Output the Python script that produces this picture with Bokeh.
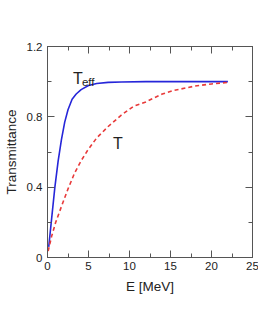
from bokeh.plotting import figure
from bokeh.models import FixedTicker, LinearAxis, Range1d
from bokeh.core.properties import value
from bokeh.embed import file_html
from bokeh.resources import INLINE

# Data
teff_x = [0.15, 0.5, 0.9, 1.3, 1.7, 2.1, 2.5, 3.0, 3.5, 4.1, 5.0, 6.0, 7.4, 9.0, 12.0, 16.0, 22.0]
teff_y = [0.06, 0.22, 0.40, 0.55, 0.67, 0.77, 0.84, 0.90, 0.93, 0.955, 0.978, 0.99, 0.996, 0.998, 1.0, 1.0, 1.0]
t_x = [0.08, 0.5, 1.0, 1.7, 2.5, 3.3, 4.1, 4.9, 6.0, 7.4, 9.0, 10.5, 12.0, 14.0, 15.4, 18.0, 20.0, 22.0]
t_y = [0.036, 0.12, 0.20, 0.29, 0.39, 0.48, 0.55, 0.61, 0.68, 0.745, 0.81, 0.86, 0.885, 0.93, 0.95, 0.975, 0.987, 0.996]

x_ticks = [0, 5, 10, 15, 20, 25]
x_minor = [2.5, 7.5, 12.5, 17.5, 22.5]
y_ticks = [0, 0.4, 0.8, 1.2]
y_minor = [0.2, 0.6, 1.0]
y_labels = {0: "0", 0.4: "0.4", 0.8: "0.8", 1.2: "1.2"}

FONT = "Liberation Sans"

p = figure(frame_width=205, frame_height=211, output_backend="svg", toolbar_location=None,
           x_range=Range1d(0, 25), y_range=Range1d(0, 1.2),
           min_border_left=46, min_border_top=46, min_border_right=7, min_border_bottom=50)
p.grid.visible = False
p.outline_line_color = "#555555"
p.outline_line_width = 1
p.background_fill_color = "white"
p.border_fill_color = "white"

def style_axis(ax):
    ax.axis_line_color = "#555555"
    ax.major_tick_line_color = "#555555"
    ax.minor_tick_line_color = "#555555"
    ax.major_tick_in = 7
    ax.major_tick_out = 0
    ax.minor_tick_in = 4
    ax.minor_tick_out = 0
    ax.major_label_text_font = FONT
    ax.major_label_text_font_size = "11.5px"
    ax.major_label_text_color = "#222222"
    ax.axis_label_text_font = FONT
    ax.axis_label_text_font_size = "13.5px"
    ax.axis_label_text_font_style = "normal"
    ax.axis_label_text_color = "#222222"

p.xaxis.ticker = FixedTicker(ticks=x_ticks, minor_ticks=x_minor)
p.yaxis.ticker = FixedTicker(ticks=y_ticks, minor_ticks=y_minor)
p.yaxis.major_label_overrides = y_labels
p.xaxis.axis_label = "E [MeV]"
p.yaxis.axis_label = "Transmittance"
style_axis(p.xaxis[0])
style_axis(p.yaxis[0])
p.xaxis.major_label_standoff = 4
p.xaxis.axis_label_standoff = 6
p.yaxis.major_label_standoff = 5
p.yaxis.axis_label_standoff = 5

top = LinearAxis(ticker=FixedTicker(ticks=x_ticks, minor_ticks=x_minor),
                 major_label_overrides={t: "" for t in x_ticks})
style_axis(top)
top.major_label_standoff = 0
p.add_layout(top, "above")
right = LinearAxis(ticker=FixedTicker(ticks=y_ticks, minor_ticks=y_minor),
                   major_label_overrides={t: "" for t in y_ticks})
style_axis(right)
right.major_label_standoff = 0
p.add_layout(right, "right")

p.line(teff_x, teff_y, line_color="#2626d9", line_width=1.6)
p.line(t_x, t_y, line_color="#e83a3a", line_width=1.6, line_dash="4 3")

p.text(x=[3.1], y=[1.02], text=["T"], text_font=value(FONT), text_font_size="16px",
       text_color="#222222", text_baseline="alphabetic")
p.text(x=[4.2], y=[1.0], text=["eff"], text_font=value(FONT), text_font_size="11.5px",
       text_color="#222222", text_baseline="alphabetic")
p.text(x=[8.0], y=[0.646], text=["T"], text_font=value(FONT), text_font_size="16px",
       text_color="#222222", text_baseline="alphabetic")

open("out.html", "w").write(file_html(p, INLINE))
